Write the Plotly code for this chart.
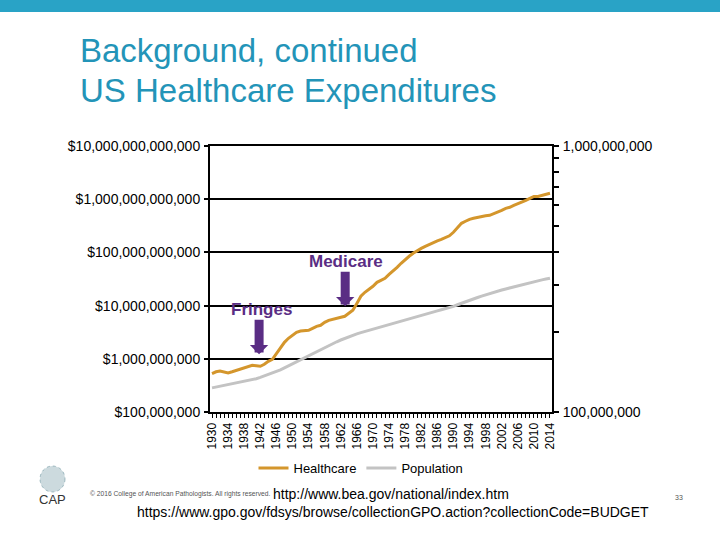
import plotly.graph_objects as go

years = list(range(1930, 2015))
healthcare = [
    5.27e8, 5.70e8, 5.90e8, 5.57e8, 5.41e8, 5.70e8, 6.00e8, 6.35e8, 6.78e8, 7.23e8,
    7.55e8, 7.38e8, 7.23e8, 7.89e8, 8.98e8, 9.79e8, 1.27e9, 1.64e9, 2.04e9, 2.43e9,
    2.77e9, 3.15e9, 3.33e9, 3.39e9, 3.44e9, 3.74e9, 4.08e9, 4.26e9, 4.85e9, 5.29e9,
    5.52e9, 5.77e9, 5.90e9, 6.30e9, 7.16e9, 8.16e9, 1.10e10, 1.50e10, 1.78e10, 2.02e10,
    2.31e10, 2.74e10, 2.99e10, 3.26e10, 3.87e10, 4.61e10, 5.25e10, 6.24e10, 7.41e10, 8.45e10,
    9.62e10, 1.09e11, 1.19e11, 1.30e11, 1.42e11, 1.55e11, 1.65e11, 1.76e11, 1.88e11, 2.05e11,
    2.39e11, 2.84e11, 3.52e11, 3.85e11, 4.19e11, 4.38e11, 4.57e11, 4.77e11, 4.88e11, 4.98e11,
    5.32e11, 5.67e11, 6.18e11, 6.74e11, 7.05e11, 7.68e11, 8.20e11, 8.75e11, 9.53e11, 1.04e12,
    1.13e12, 1.13e12, 1.18e12, 1.21e12, 1.29e12,
]
population = [
    123.2e6, 124.1e6, 124.8e6, 125.6e6, 126.4e6, 127.3e6, 128.1e6, 128.8e6, 129.8e6, 130.9e6,
    132.1e6, 133.4e6, 134.9e6, 136.7e6, 138.4e6, 139.9e6, 141.4e6, 144.1e6, 146.6e6, 149.2e6,
    152.3e6, 154.9e6, 157.6e6, 160.2e6, 163.0e6, 165.9e6, 168.9e6, 172.0e6, 174.9e6, 177.8e6,
    180.7e6, 183.7e6, 186.5e6, 189.2e6, 191.9e6, 194.3e6, 196.6e6, 198.7e6, 200.7e6, 202.7e6,
    205.1e6, 207.7e6, 209.9e6, 211.9e6, 213.9e6, 216.0e6, 218.0e6, 220.2e6, 222.6e6, 225.1e6,
    227.2e6, 229.5e6, 231.7e6, 233.8e6, 235.8e6, 237.9e6, 240.1e6, 242.3e6, 244.5e6, 246.8e6,
    249.6e6, 253.0e6, 256.5e6, 259.9e6, 263.1e6, 266.3e6, 269.4e6, 272.6e6, 275.9e6, 279.0e6,
    282.2e6, 285.0e6, 287.6e6, 290.1e6, 292.8e6, 295.5e6, 298.4e6, 301.2e6, 304.1e6, 306.8e6,
    309.3e6, 311.6e6, 313.9e6, 316.1e6, 318.4e6,
]
left_tickvals = [1e8, 1e9, 1e10, 1e11, 1e12, 1e13]
left_ticktext = ["$100,000,000", "$1,000,000,000", "$10,000,000,000",
                 "$100,000,000,000", "$1,000,000,000,000", "$10,000,000,000,000"]
right_tickvals = [1e8, 1e9]
right_ticktext = ["100,000,000", "1,000,000,000"]
right_minor = [2e8, 3e8, 4e8, 5e8, 6e8, 7e8, 8e8, 9e8]
x_tickvals = list(range(1930, 2015, 4))

FONT = "Liberation Sans, Arial, sans-serif"
PURPLE = "#5A2D84"
ORANGE = "#D4962C"
GREY = "#C3C3C3"
TEAL = "#2394B8"

fig = go.Figure()
fig.add_trace(go.Scatter(x=years, y=healthcare, mode="lines", name="Healthcare",
                         line=dict(color=ORANGE, width=3), yaxis="y"))
fig.add_trace(go.Scatter(x=years, y=population, mode="lines", name="Population",
                         line=dict(color=GREY, width=3), yaxis="y2"))

L, R, T, B = 210, 168, 146, 128
W, H = 720, 540
PW, PH = W - L - R, H - T - B


def px(xp):
    return (xp - L) / PW


def py(yp):
    return (H - B - yp) / PH


fig.update_layout(
    width=W, height=H,
    margin=dict(l=L, r=R, t=T, b=B),
    paper_bgcolor="white", plot_bgcolor="white",
    font=dict(family=FONT, color="black", size=14),
    showlegend=True,
    legend=dict(orientation="h", x=px(361), xanchor="center", y=py(468), yanchor="middle",
                font=dict(size=13, family=FONT), bgcolor="rgba(0,0,0,0)",
                itemwidth=30, tracegroupgap=0),
    xaxis=dict(range=[1929.5, 2014.5], tickvals=x_tickvals, tickangle=-90,
               tickfont=dict(size=12), showgrid=False, zeroline=False,
               showline=True, linecolor="black", linewidth=2, mirror=True,
               ticks="outside", ticklen=4, tickcolor="black", tickwidth=1,
               minor=dict(dtick=1, tick0=1930, ticks="outside", ticklen=4,
                          tickcolor="black", tickwidth=1, showgrid=False)),
    yaxis=dict(type="log", range=[8, 13], tickvals=left_tickvals, ticktext=left_ticktext,
               showgrid=True, gridcolor="black", gridwidth=2, zeroline=False,
               showline=True, linecolor="black", linewidth=2,
               ticks="outside", ticklen=4, tickcolor="black", tickwidth=2,
               ticklabelstandoff=1, tickfont=dict(size=14)),
    yaxis2=dict(type="log", range=[8, 9], overlaying="y", side="right",
                tickvals=right_tickvals, ticktext=right_ticktext, showgrid=False,
                zeroline=False, showline=True, linecolor="black", linewidth=2,
                ticks="outside", ticklen=5, tickcolor="black", tickwidth=2,
                ticklabelstandoff=1, tickfont=dict(size=14),
                minor=dict(tickvals=right_minor, ticks="outside", ticklen=5,
                           tickcolor="black", tickwidth=2, showgrid=False)),
)

# top band
fig.add_shape(type="rect", xref="paper", yref="paper", x0=px(0), x1=px(W),
              y0=py(12), y1=py(0), fillcolor="#29A3C6", line=dict(width=0), layer="above")

annotations = [
    dict(text="Background, continued", x=px(78), y=py(51), xanchor="left", yanchor="middle",
         font=dict(size=33, color=TEAL, family=FONT)),
    dict(text="US Healthcare Expenditures", x=px(78), y=py(91), xanchor="left", yanchor="middle",
         font=dict(size=33, color=TEAL, family=FONT)),
    dict(text="© 2016 College of American Pathologists. All rights reserved.", x=px(88), y=py(494),
         xanchor="left", yanchor="middle", font=dict(size=6.7, color="#555555", family=FONT)),
    dict(text="http://www.bea.gov/national/index.htm", x=px(271), y=py(494),
         xanchor="left", yanchor="middle", font=dict(size=14, color="black", family=FONT)),
    dict(text="https://www.gpo.gov/fdsys/browse/collectionGPO.action?collectionCode=BUDGET",
         x=px(135), y=py(512), xanchor="left", yanchor="middle",
         font=dict(size=14, color="black", family=FONT)),
    dict(text="33", x=px(679), y=py(497), xanchor="center", yanchor="middle",
         font=dict(size=7, color="#555555", family=FONT)),
    dict(text="CAP", x=px(52), y=py(499), xanchor="center", yanchor="middle",
         font=dict(size=13, color="#333333", family=FONT)),
]
for a in annotations:
    fig.add_annotation(xref="paper", yref="paper", showarrow=False, **a)

# logo globe
fig.add_shape(type="circle", xref="paper", yref="paper", x0=px(40), x1=px(65),
              y0=py(492), y1=py(466), fillcolor="rgba(110,150,160,0.35)",
              line=dict(color="rgba(110,150,160,0.6)", width=1, dash="dot"))

# arrows (log axis: annotation y in log10 units)
fig.add_annotation(x=1941.7, y=9.085, xref="x", yref="y", ax=0, ay=-36, text="",
                   showarrow=True, arrowhead=1, arrowwidth=9, arrowsize=0.34, arrowcolor=PURPLE)
fig.add_annotation(x=1963.1, y=9.987, xref="x", yref="y", ax=0, ay=-36, text="",
                   showarrow=True, arrowhead=1, arrowwidth=9, arrowsize=0.34, arrowcolor=PURPLE)
fig.add_annotation(x=1942.4, y=9.93, xref="x", yref="y", text="<b>Fringes</b>", showarrow=False,
                   font=dict(size=17, color=PURPLE, family=FONT))
fig.add_annotation(x=1963.3, y=10.833, xref="x", yref="y", text="<b>Medicare</b>", showarrow=False,
                   font=dict(size=17, color=PURPLE, family=FONT))

fig.write_html("out.html")
